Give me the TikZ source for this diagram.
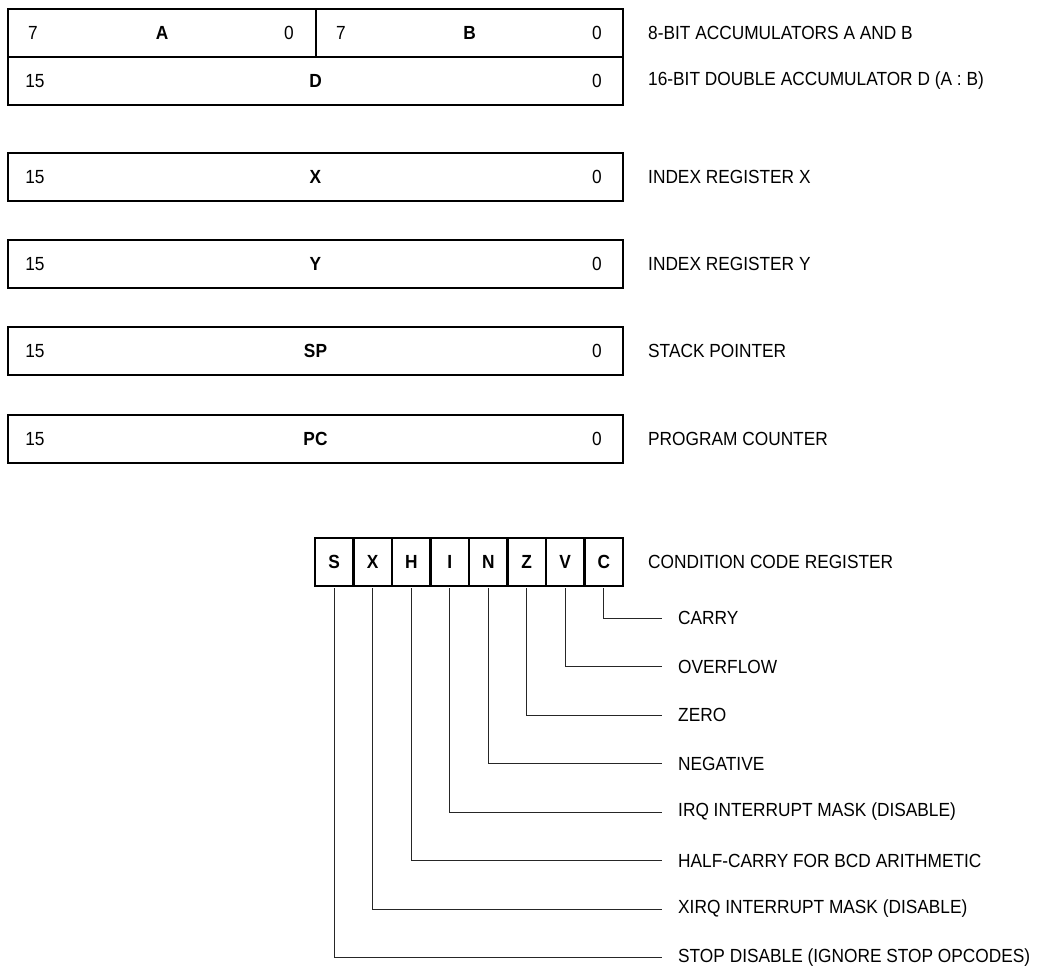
\documentclass[tikz,border=0pt]{standalone}
\usepackage{fontspec}
\setmainfont[FakeStretch=0.91]{Liberation Sans}
\usetikzlibrary{positioning}

\begin{document}
\begin{tikzpicture}[x=1pt, y=-1pt,
  font=\fontsize{19}{23}\selectfont,
  regbox/.style={draw, line width=2.4pt, minimum height=48pt, inner sep=0pt},
  bitcell/.style={draw, line width=2.4pt, minimum width=38.5pt, minimum height=48pt, inner sep=0pt, font=\fontsize{19}{23}\selectfont\bfseries},
  regname/.style={font=\fontsize{19}{23}\selectfont\bfseries},
  desc/.style={anchor=west, inner sep=0pt},
  leader/.style={line width=1pt, black!85}]
  \useasboundingbox (0,0) rectangle (1038,967);

  % Accumulators A and B
  \node[regbox, minimum width=308pt] (regA) at (162,33) {};
  \node[regbox, minimum width=307pt] (regB) at (469.5,33) {};
  \node at (33,33) {7};
  \node[regname] at (regA) {A};
  \node at (289,33) {0};
  \node at (341,33) {7};
  \node[regname] at (regB) {B};
  \node at (597,33) {0};
  \node[desc] (descAB) at (648,33) {8-BIT ACCUMULATORS A AND B};

  % Double accumulator D
  \node[regbox, minimum width=615pt] (regD) at (315.5,81) {};
  \node at (35,81) {15};
  \node[regname] at (regD) {D};
  \node at (597,81) {0};
  \node[desc] (descD) at (648,81) {16-BIT DOUBLE ACCUMULATOR D (A : B)};

  % 16-bit registers
  \foreach \r/\yy/\txt in {X/177/INDEX REGISTER X, Y/264/INDEX REGISTER Y,
                           SP/351/STACK POINTER, PC/439/PROGRAM COUNTER} {
    \node[regbox, minimum width=615pt] (reg\r) at (315.5,\yy) {};
    \node at (35,\yy) {15};
    \node[regname] at (reg\r) {\r};
    \node at (597,\yy) {0};
    \node[desc] (desc\r) at (648,\yy) {\txt};
  }

  % Condition code register
  \foreach \b [count=\i] in {S,X,H,I,N,Z,V,C}
    \node[bitcell] (cell\b) at ({315+38.5*(\i-0.5)},562) {\b};
  \node[desc] (descCCR) at (648,562) {CONDITION CODE REGISTER};

  % Flag leaders
  \foreach \b/\yy/\txt in {C/618/CARRY, V/666.5/OVERFLOW, Z/715/ZERO,
                           N/763.5/NEGATIVE, I/812/IRQ INTERRUPT MASK (DISABLE),
                           H/860.5/HALF-CARRY FOR BCD ARITHMETIC,
                           X/909/XIRQ INTERRUPT MASK (DISABLE),
                           S/957.5/STOP DISABLE (IGNORE STOP OPCODES)} {
    \node[desc] (flag\b) at (678,\yy) {\txt};
    \draw[leader] ([yshift=-1.2pt]cell\b.south) |- ([xshift=-16pt]flag\b.west);
  }
\end{tikzpicture}
\end{document}
